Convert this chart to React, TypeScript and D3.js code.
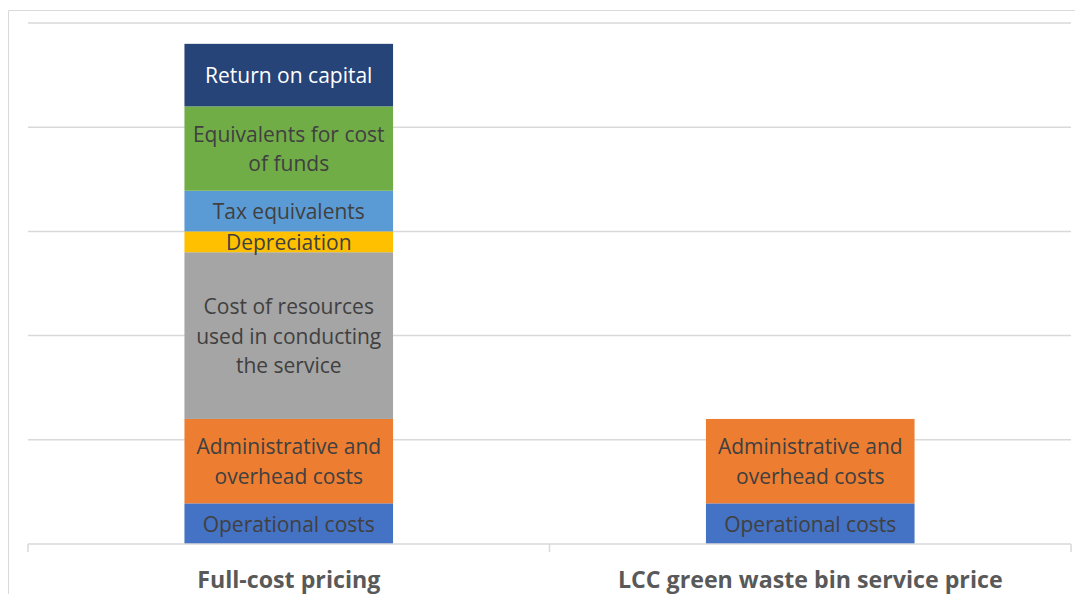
import React from "react";
import * as d3 from "d3";

const categories = ["Full-cost pricing", "LCC green waste bin service price"];
const seriesNames = [
  "Operational costs",
  "Administrative and overhead costs",
  "Cost of resources used in conducting the service",
  "Depreciation",
  "Tax equivalents",
  "Equivalents for cost of funds",
  "Return on capital",
];
const seriesLabelLines = [
  ["Operational costs"],
  ["Administrative and", "overhead costs"],
  ["Cost of resources", "used in conducting", "the service"],
  ["Depreciation"],
  ["Tax equivalents"],
  ["Equivalents for cost", "of funds"],
  ["Return on capital"],
];
const fullCostValues = [0.39, 0.81, 1.6, 0.2, 0.39, 0.81, 0.6];
const lccValues = [0.39, 0.81, 0, 0, 0, 0, 0];
const gridTicks = [0, 1, 2, 3, 4, 5];
const seriesColors = ["#4472C4", "#ED7D31", "#A5A5A5", "#FFC000", "#5B9BD5", "#70AD47", "#264478"];
const labelColors = ["#404040", "#404040", "#404040", "#404040", "#404040", "#404040", "#FFFFFF"];

export default function App() {
  const W = 1075, H = 594;
  const left = 28, right = 1071, top = 23, bottom = 544;
  const x = d3.scaleBand<string>().domain(categories).range([left, right]).paddingInner(0.6).paddingOuter(0.3);
  const band = d3.scaleBand<string>().domain(categories).range([left, right]);
  const y = d3.scaleLinear().domain([0, 5]).range([bottom, top]);

  const rows = categories.map((c, i) => {
    const vals = i === 0 ? fullCostValues : lccValues;
    const r: any = { category: c };
    seriesNames.forEach((s, j) => (r[s] = vals[j]));
    return r;
  });
  const stack = d3.stack<any>().keys(seriesNames)(rows);
  const font = "'Open Sans', 'Noto Sans', sans-serif";
  const lineH = 29.5;

  return (
    <div style={{ position: "absolute", left: 0, top: 0 }}>
      <svg width={W} height={H} style={{ display: "block" }}>
        <rect x={0} y={0} width={W} height={H} fill="#fff" />
        <path d={`M8.5,${H} V10.5 H${W}`} fill="none" stroke="#d9d9d9" strokeWidth={1} />
        {gridTicks.slice(1).map((t) => (
          <line key={t} x1={left} x2={right} y1={y(t)} y2={y(t)} stroke="#d9d9d9" strokeWidth={1.5} />
        ))}
        {stack.map((layer, si) =>
          layer.map((d, ci) => {
            const h = y(d[0]) - y(d[1]);
            if (h <= 0) return null;
            return (
              <rect
                key={`${si}-${ci}`}
                x={x(categories[ci])}
                y={y(d[1])}
                width={x.bandwidth()}
                height={h}
                fill={seriesColors[si]}
              />
            );
          })
        )}
        <line x1={left} x2={right} y1={bottom} y2={bottom} stroke="#d9d9d9" strokeWidth={1.5} />
        {[...categories.map((c) => band(c)!), right].map((tx, i) => (
          <line key={i} x1={tx} x2={tx} y1={bottom} y2={bottom + 8} stroke="#d9d9d9" strokeWidth={1.5} />
        ))}
        {stack.map((layer, si) =>
          layer.map((d, ci) => {
            const h = y(d[0]) - y(d[1]);
            if (h <= 0) return null;
            const cx = x(categories[ci])! + x.bandwidth() / 2;
            const cy = (y(d[0]) + y(d[1])) / 2;
            const lines = seriesLabelLines[si];
            return (
              <text
                key={`t${si}-${ci}`}
                x={cx}
                textAnchor="middle"
                fontFamily={font}
                fontSize={21}
                fill={labelColors[si]}
              >
                {lines.map((ln, k) => (
                  <tspan key={k} x={cx} y={cy + (k - (lines.length - 1) / 2) * lineH} dy="0.38em">
                    {ln}
                  </tspan>
                ))}
              </text>
            );
          })
        )}
        {categories.map((c) => (
          <text
            key={c}
            x={band(c)! + band.bandwidth() / 2}
            y={580}
            dy="0.36em"
            textAnchor="middle"
            fontFamily={font}
            fontSize={23.2}
            fontWeight="bold"
            fill="#595959"
          >
            {c}
          </text>
        ))}
      </svg>
    </div>
  );
}
